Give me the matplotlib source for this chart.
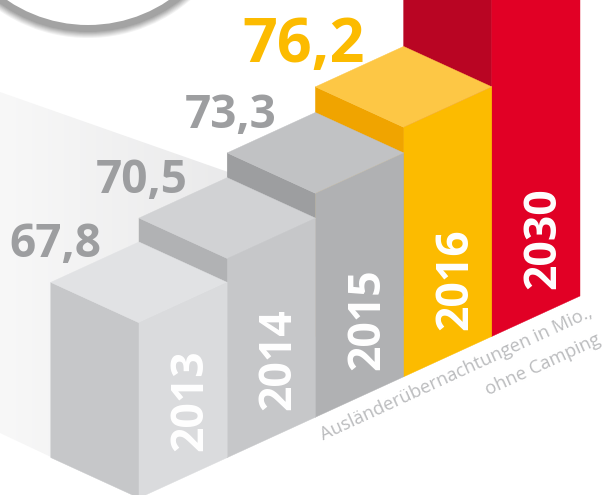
import matplotlib
matplotlib.use("Agg")
import matplotlib.pyplot as plt
import numpy as np
from matplotlib.patches import Circle, Polygon

# values (the 2030 bar runs off the top, estimated)
years = ["2013", "2014", "2015", "2016", "2030"]
values = [67.8, 70.5, 73.3, 76.2, 115.0]
value_labels = ["67,8", "70,5", "73,3", "76,2", None]

left_colors = ["#c6c7c9", "#b1b2b4", "#9d9ea0", "#f0a400", "#b90523"]
front_colors = ["#dadbdd", "#c6c7c9", "#b0b1b3", "#fcbb00", "#e10025"]
top_colors = ["#e1e2e4", "#d1d2d4", "#c1c2c4", "#fdc745", "#c8203a"]
value_colors = ["#9d9ea0", "#9d9ea0", "#9d9ea0", "#fcbb00", None]
value_sizes = [33, 33, 33, 44, 0]
value_dx = [5, 3, 3, -12, 0]

# isometric step between the columns, pixels
DX = 88.2
DY = 40.4
BASE_X = 139
BASE_Y = 497
PX_PER_UNIT = 8.85
ZERO_VALUE = 48


def bar_height(v):
    return (v - ZERO_VALUE) * PX_PER_UNIT


fig = plt.figure(figsize=(6.03, 4.95), dpi=100)
ax = fig.add_axes([0, 0, 1, 1])
ax.set_xlim(0, 603)
ax.set_ylim(495, 0)
ax.axis("off")

# shaded floor behind the columns
grad = np.linspace(0, 1, 256).reshape(1, -1)
im = ax.imshow(grad, cmap=matplotlib.colors.LinearSegmentedColormap.from_list("bg", ["#f8f8f8", "#e9e9ea"]),
               extent=(0, 240, 495, 0), aspect="auto", zorder=1)
floor = Polygon([(0, 92), (228, 172), (228, 400), (51, 457), (0, 433)], closed=True,
                transform=ax.transData, facecolor="none", edgecolor="none")
ax.add_patch(floor)
im.set_clip_path(floor)
ax.set_xlim(0, 603)
ax.set_ylim(495, 0)

# columns, back to front
for i in reversed(range(len(years))):
    fx = BASE_X + i * DX
    by = BASE_Y - i * DY + 1
    top = by - bar_height(values[i])
    left = [(fx - DX, top - DY), (fx, top), (fx, by), (fx - DX, by - DY)]
    front = [(fx, top), (fx + DX, top - DY), (fx + DX, by - DY), (fx, by)]
    cap = [(fx - DX, top - DY), (fx, top - 2 * DY), (fx + DX, top - DY), (fx, top)]
    ax.add_patch(Polygon(left, closed=True, facecolor=left_colors[i], edgecolor=left_colors[i], lw=0.3, zorder=2))
    ax.add_patch(Polygon(front, closed=True, facecolor=front_colors[i], edgecolor=front_colors[i], lw=0.3, zorder=2))
    ax.add_patch(Polygon(cap, closed=True, facecolor=top_colors[i], edgecolor=top_colors[i], lw=0.3, zorder=2))

    ax.text(fx + 52, by - 98, years[i], rotation=90, color="white", fontsize=32, fontweight="bold",
            family="Open Sans", ha="center", va="center", zorder=3)
    if value_labels[i]:
        ax.text(fx - DX + value_dx[i], top - DY - 25, value_labels[i], color=value_colors[i],
                fontsize=value_sizes[i], fontweight="bold", family="Open Sans", ha="center", va="baseline", zorder=3)

# circle cut off at the top, soft shadow under it
cx, cy, r = 88, -119, 144
for k in range(14, -1, -1):
    shade = 0.64 + (1 - 0.64) * max(0, k - 7) / 7
    ax.add_patch(Circle((cx, cy), r + k, facecolor=str(shade), edgecolor="none", zorder=4))
ax.add_patch(Circle((cx, cy), r, facecolor="white", edgecolor="none", zorder=5))

# caption along the lower edge
ax.text(323, 440, "Ausländerübernachtungen in Mio.,", rotation=24.7, rotation_mode="anchor",
        color="#bbbcbe", fontsize=13.2, family="Open Sans", ha="left", va="baseline", zorder=3)
ax.text(602, 343, "ohne Camping", rotation=24.7, rotation_mode="anchor",
        color="#bbbcbe", fontsize=13.2, family="Open Sans", ha="right", va="baseline", zorder=3)

plt.savefig("out.png", dpi=100)
plt.close()
